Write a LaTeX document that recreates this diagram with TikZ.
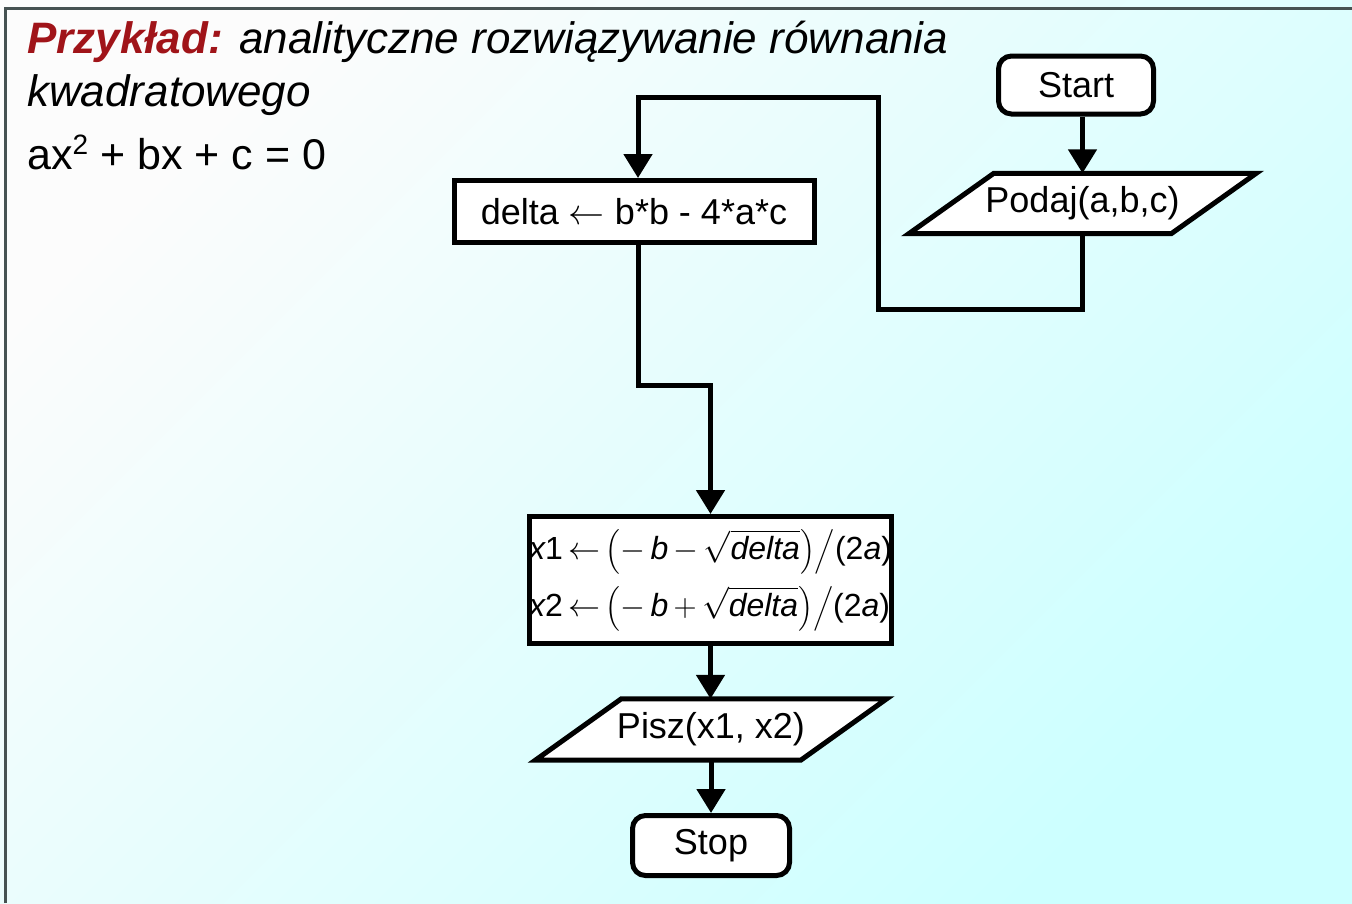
\documentclass[tikz,border=0pt]{standalone}
\usepackage{fix-cm}
\usepackage{amsmath}
\usepackage{fontspec}
\setmainfont{Liberation Sans}
\usetikzlibrary{arrows.meta}
\pgfdeclarelayer{back}
\pgfdeclarelayer{mid}
\pgfsetlayers{back,mid,main}
\definecolor{titlered}{RGB}{160,20,25}
\definecolor{framegray}{RGB}{70,82,82}
\definecolor{bgtop}{RGB}{252,252,252}
\definecolor{bgbottom}{RGB}{204,255,255}
% italic sans variable inside math
\newcommand\itv[1]{\mbox{\itshape #1}}
% tighter spacing around relations and binary operators
\newcommand\tightmath{\medmuskip=3mu\relax\thickmuskip=3mu\relax}

\begin{document}
\begin{tikzpicture}[x=1pt,y=-1pt,
  boxline/.style={line width=5pt, draw=black, line join=miter},
  procbox/.style={boxline, fill=white, rectangle, inner sep=0pt,
    font=\fontsize{36}{43}\selectfont},
  termbox/.style={procbox, rounded corners=13pt},
  iobox/.style={rectangle, inner sep=0pt, font=\fontsize{36}{43}\selectfont},
  conn/.style={line width=5pt, line join=miter},
  flow/.style={conn, -{Triangle[length=24pt,width=28pt]}},
  titletext/.style={anchor=base west, inner sep=0pt},
]
% page and gradient background
\useasboundingbox (0,0) rectangle (1352,903);
\begin{pgfonlayer}{back}
  \shade[top color=bgtop, bottom color=bgbottom, shading angle=45]
    (0,0) rectangle (1352,903);
  \draw[framegray, line width=3pt] (5,903) -- (5,8) -- (1352,8);
\end{pgfonlayer}

% heading
\node[titletext, font=\fontsize{44}{52}\selectfont\itshape] (title1) at (27,53)
  {\textcolor{titlered}{\bfseries Przykład:} analityczne rozwiązywanie równania};
\node[titletext, font=\fontsize{44}{52}\selectfont\itshape] (title2) at (27,106)
  {kwadratowego};
\node[titletext, font=\fontsize{43}{52}\selectfont] (eq) at (27,169)
  {ax\raisebox{0.33em}{\fontsize{28}{30}\selectfont 2} + bx + c = 0};

% flowchart blocks
\node[termbox, minimum width=155pt, minimum height=58pt] (start) at (1076,85) {Start};
\node[iobox, minimum width=262pt, minimum height=60pt] (podaj) at (1082.5,203.5) {Podaj(a,b,c)};
\node[procbox, minimum width=360pt, minimum height=127pt, align=left,
  font=\fontsize{32}{38}\selectfont] (calc) at (710.5,580)
  {\tightmath$\itv{x}\mbox{1}\leftarrow\bigl(-\,\itv{b}-\sqrt{\itv{delta}}\bigr)\big/\mbox{(2}\itv{a}\mbox{)}$\\[11pt]
   \tightmath$\itv{x}\mbox{2}\leftarrow\bigl(-\,\itv{b}+\sqrt{\itv{delta}}\bigr)\big/\mbox{(2}\itv{a}\mbox{)}$};
\node[procbox, minimum width=360pt, minimum height=62pt] (delta) at (634,211.5)
  {delta $\leftarrow$ b*b - 4*a*c};
\node[iobox, minimum width=265pt, minimum height=61pt] (pisz) at (711,729.5) {Pisz(x1, x2)};
\node[termbox, minimum width=157pt, minimum height=60pt] (stop) at (711,845.5) {Stop};

% slanted input/output outlines, behind their labels
\begin{pgfonlayer}{mid}
  \draw[boxline, fill=white]
    ([xshift=42.5pt]podaj.north west) -- ([xshift=42.5pt]podaj.north east)
    -- ([xshift=-42.5pt]podaj.south east) -- ([xshift=-42.5pt]podaj.south west) -- cycle;
  \draw[boxline, fill=white]
    ([xshift=43pt]pisz.north west) -- ([xshift=43pt]pisz.north east)
    -- ([xshift=-43pt]pisz.south east) -- ([xshift=-43pt]pisz.south west) -- cycle;
\end{pgfonlayer}

% connectors
\coordinate (loopB) at (878,309);
\coordinate (loopT) at (878,97);
\draw[flow] (start.south -| podaj.north) -- (podaj.north);
\draw[flow] (podaj.south) |- (loopB) -- (loopT) -| ([xshift=4pt]delta.north);
\draw[flow] ([xshift=4pt]delta.south) -- ++(0,140) -| (calc.north);
\draw[flow] (calc.south) -- (calc.south |- pisz.north);
\draw[flow] (pisz.south -| stop.north) -- (stop.north);
\end{tikzpicture}
\end{document}
